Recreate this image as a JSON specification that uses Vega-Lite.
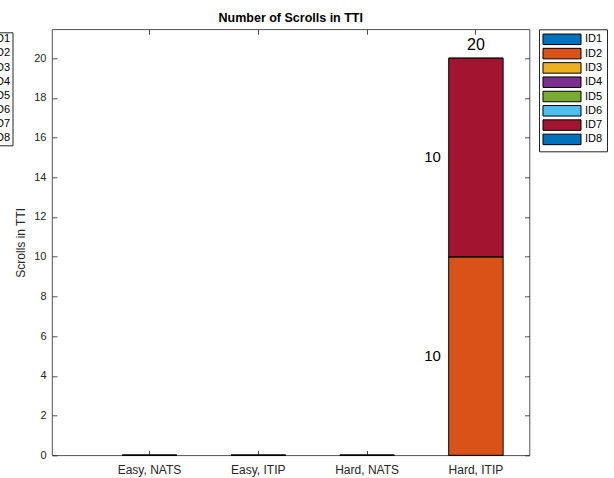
{
  "$schema": "https://vega.github.io/schema/vega-lite/v6.json",
  "autosize": {"type": "none"},
  "width": 477.5,
  "height": 426,
  "padding": {"left": 52, "top": 29.3, "right": 84.5, "bottom": 22.7},
  "background": "white",
  "config": {
    "font": "Liberation Sans",
    "view": {"stroke": "#262626", "strokeWidth": 0.8},
    "axis": {"domain": false, "tickColor": "#262626", "tickWidth": 0.8, "tickSize": 5, "offset": -5, "labelColor": "#262626", "titleColor": "#262626", "grid": false, "labelFont": "Liberation Sans", "titleFont": "Liberation Sans"}
  },
  "title": {"text": "Number of Scrolls in TTI", "fontSize": 12.5, "fontWeight": "bold", "font": "Liberation Sans", "color": "black", "offset": 4, "anchor": "middle"},
  "data": {"values": [
    {"cond": "Easy, NATS", "id": "ID1", "value": 0}, {"cond": "Easy, NATS", "id": "ID2", "value": 0}, {"cond": "Easy, NATS", "id": "ID3", "value": 0}, {"cond": "Easy, NATS", "id": "ID4", "value": 0},
    {"cond": "Easy, NATS", "id": "ID5", "value": 0}, {"cond": "Easy, NATS", "id": "ID6", "value": 0}, {"cond": "Easy, NATS", "id": "ID7", "value": 0}, {"cond": "Easy, NATS", "id": "ID8", "value": 0},
    {"cond": "Easy, ITIP", "id": "ID1", "value": 0}, {"cond": "Easy, ITIP", "id": "ID2", "value": 0}, {"cond": "Easy, ITIP", "id": "ID3", "value": 0}, {"cond": "Easy, ITIP", "id": "ID4", "value": 0},
    {"cond": "Easy, ITIP", "id": "ID5", "value": 0}, {"cond": "Easy, ITIP", "id": "ID6", "value": 0}, {"cond": "Easy, ITIP", "id": "ID7", "value": 0}, {"cond": "Easy, ITIP", "id": "ID8", "value": 0},
    {"cond": "Hard, NATS", "id": "ID1", "value": 0}, {"cond": "Hard, NATS", "id": "ID2", "value": 0}, {"cond": "Hard, NATS", "id": "ID3", "value": 0}, {"cond": "Hard, NATS", "id": "ID4", "value": 0},
    {"cond": "Hard, NATS", "id": "ID5", "value": 0}, {"cond": "Hard, NATS", "id": "ID6", "value": 0}, {"cond": "Hard, NATS", "id": "ID7", "value": 0}, {"cond": "Hard, NATS", "id": "ID8", "value": 0},
    {"cond": "Hard, ITIP", "id": "ID1", "value": 0}, {"cond": "Hard, ITIP", "id": "ID2", "value": 10}, {"cond": "Hard, ITIP", "id": "ID3", "value": 0}, {"cond": "Hard, ITIP", "id": "ID4", "value": 0},
    {"cond": "Hard, ITIP", "id": "ID5", "value": 0}, {"cond": "Hard, ITIP", "id": "ID6", "value": 0}, {"cond": "Hard, ITIP", "id": "ID7", "value": 10}, {"cond": "Hard, ITIP", "id": "ID8", "value": 0}
  ]},
  "resolve": {"axis": {"x": "independent", "y": "independent"}, "legend": {"color": "independent"}},
  "layer": [
    {
      "mark": {"type": "bar", "stroke": "black", "strokeWidth": 1},
      "encoding": {
        "x": {"field": "cond", "type": "nominal", "sort": null,
              "scale": {"paddingInner": 0.5, "paddingOuter": 0.444, "align": 0.727},
              "axis": {"orient": "bottom", "title": null, "labelAngle": 0, "labelFontSize": 12, "labelPadding": 9}},
        "y": {"field": "value", "type": "quantitative", "stack": "zero",
              "scale": {"domain": [0, 21.45], "nice": false, "zero": true},
              "axis": {"orient": "left", "title": "Scrolls in TTI", "titleFontSize": 12, "titleFontWeight": "normal", "titlePadding": 6, "values": [0,2,4,6,8,10,12,14,16,18,20], "labelFontSize": 11, "labelPadding": 6}},
        "color": {"field": "id", "type": "nominal",
                  "scale": {"domain": ["ID1","ID2","ID3","ID4","ID5","ID6","ID7","ID8"], "range": ["#0072BD","#D95319","#EDB120","#7E2F8E","#77AC30","#4DBEEE","#A2142F","#0072BD"]},
                  "legend": {"orient": "none", "legendX": 487, "legendY": 0, "title": null, "symbolType": "M-3.62,-1H3.62V1H-3.62Z", "symbolSize": 110.25, "symbolStrokeColor": "black", "symbolStrokeWidth": 1, "symbolOpacity": 1, "symbolOffset": 13, "labelFontSize": 11, "labelColor": "black", "labelOffset": 17, "strokeColor": "#262626", "padding": 4, "rowPadding": -1.7, "fillColor": "white"}},
        "strokeOpacity": {"condition": {"test": "datum.value == 0", "value": 0.4}, "value": 1},
        "order": {"field": "id", "type": "nominal"}
      }
    },
    {
      "transform": [
        {"filter": "datum.value > 0"},
        {"stack": "value", "groupby": ["cond"], "sort": [{"field": "id"}], "as": ["v0", "v1"]},
        {"calculate": "(datum.v0 + datum.v1) / 2", "as": "mid"}
      ],
      "mark": {"type": "text", "align": "right", "baseline": "middle", "dx": -35, "fontSize": 15, "color": "black"},
      "encoding": {
        "x": {"field": "cond", "type": "nominal", "sort": null, "axis": {"orient": "top", "title": null, "labels": false}},
        "y": {"field": "mid", "type": "quantitative", "axis": {"orient": "right", "title": null, "labels": false, "values": [0,2,4,6,8,10,12,14,16,18,20]}},
        "text": {"field": "value", "type": "quantitative"}
      }
    },
    {
      "transform": [
        {"aggregate": [{"op": "sum", "field": "value", "as": "total"}], "groupby": ["cond"]},
        {"filter": "datum.total > 0"}
      ],
      "mark": {"type": "text", "align": "center", "baseline": "bottom", "dy": -5, "fontSize": 16, "color": "black"},
      "encoding": {
        "x": {"field": "cond", "type": "nominal", "sort": null, "axis": null},
        "y": {"field": "total", "type": "quantitative", "axis": null},
        "text": {"field": "total", "type": "quantitative"}
      }
    },
    {
      "mark": {"type": "bar", "opacity": 0},
      "encoding": {
        "x": {"field": "cond", "type": "nominal", "sort": null, "axis": null},
        "y": {"field": "value", "type": "quantitative", "stack": "zero", "axis": null},
        "color": {"field": "id", "type": "nominal",
                  "legend": {"orient": "none", "legendX": -71.5, "legendY": 3, "title": null, "symbolSize": 0, "symbolStrokeWidth": 0, "symbolOpacity": 0, "labelFontSize": 11, "labelColor": "black", "labelOffset": 0, "strokeColor": "#262626", "padding": 1.5, "rowPadding": 2.1, "fillColor": "white"}}
      }
    }
  ]
}
